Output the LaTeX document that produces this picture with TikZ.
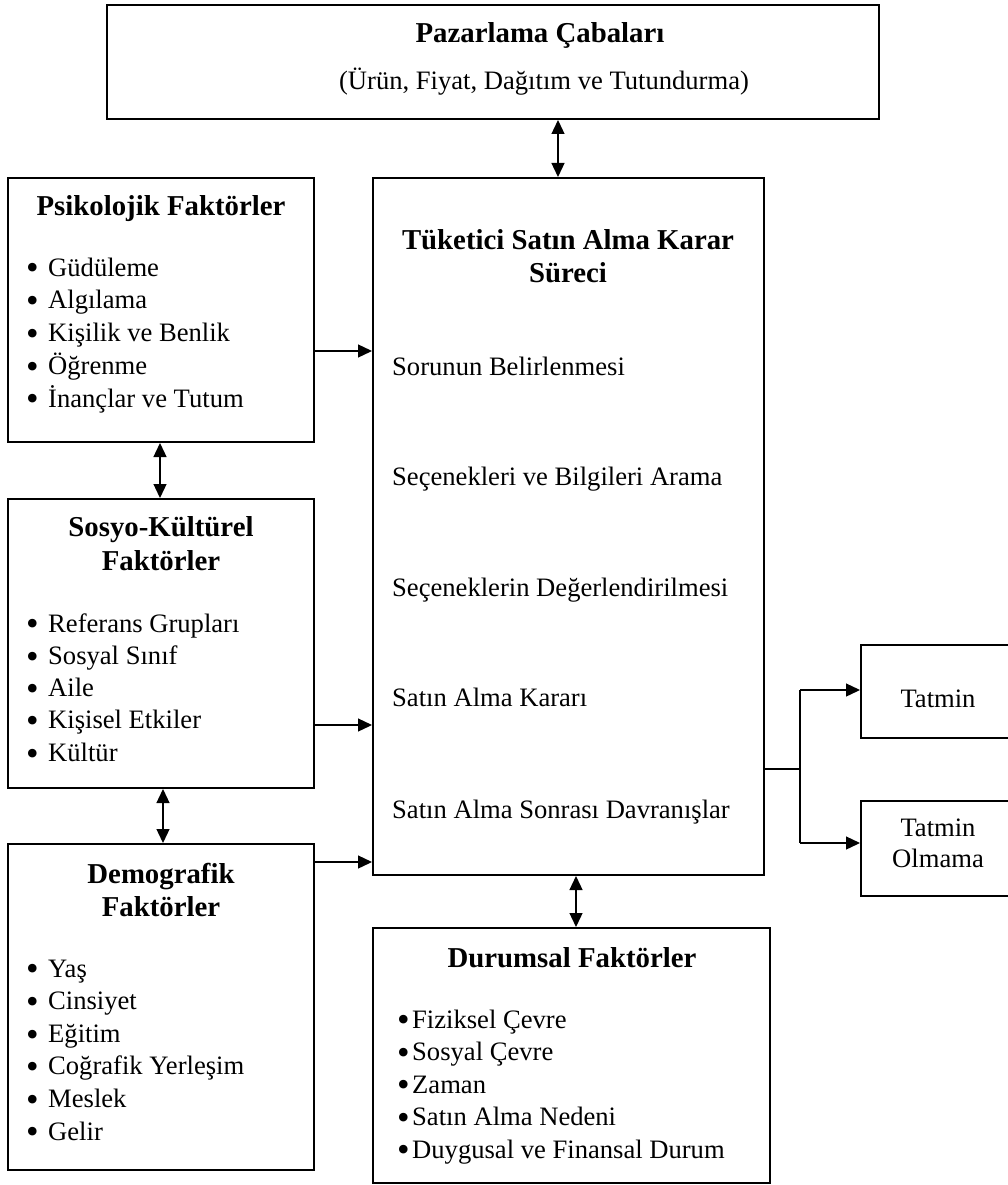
\documentclass[tikz,border=0pt]{standalone}
\usepackage{fontspec}
\setmainfont{Liberation Serif}
\usetikzlibrary{arrows.meta}
\newcommand{\bigbul}{\smash{\raisebox{-3.9pt}{\scalebox{1.35}{•}}}}
\tikzset{
  boxnode/.style={draw=black, line width=2pt, inner sep=0pt},
  reg/.style={font=\fontsize{26.6}{32.6}\selectfont, inner sep=0pt, text height=18pt, text depth=0pt},
  bld/.style={font=\bfseries\fontsize{28.8}{33}\selectfont, inner sep=0pt, text height=19pt, text depth=0pt},
  conn/.style={line width=1.3pt},
  arr/.style={conn, -{Triangle[length=14pt,width=13pt]}},
  dbl/.style={conn, {Triangle[length=14pt,width=13pt]}-{Triangle[length=14pt,width=13pt]}},
}
\begin{document}
\begin{tikzpicture}[x=1pt,y=-1pt]
\useasboundingbox (0,0) rectangle (1008,1185);
\fill[white] (0,0) rectangle (1008,1185);
\clip (0,0) rectangle (1008,1185);

% boxes
\node[boxnode, minimum width=772pt, minimum height=114pt] (top) at (493,62) {};
\node[boxnode, minimum width=391pt, minimum height=697pt] (main) at (568.5,526.5) {};
\node[boxnode, minimum width=306pt, minimum height=264pt] (psik) at (161,310) {};
\node[boxnode, minimum width=306pt, minimum height=289pt] (sos) at (161,643.5) {};
\node[boxnode, minimum width=306pt, minimum height=326pt] (dem) at (161,1007) {};
\node[boxnode, minimum width=397pt, minimum height=255pt] (dur) at (571.5,1055.5) {};
\node[boxnode, minimum width=154pt, minimum height=93pt] (tat) at (938,691.5) {};
\node[boxnode, minimum width=154pt, minimum height=95pt] (olm) at (938,848.5) {};

% top box text
\node[bld] (toptitle) at (540,33) {Pazarlama Çabaları};
\node[reg] (topsub) at (544,81) {(Ürün, Fiyat, Dağıtım ve Tutundurma)};

% main box text
\node[bld] (maint1) at (568,240) {Tüketici Satın Alma Karar};
\node[bld] (maint2) at (568,273) {Süreci};
\node[reg, anchor=west] (m1) at (392,366) {Sorunun Belirlenmesi};
\node[reg, anchor=west] (m2) at (392,476) {Seçenekleri ve Bilgileri Arama};
\node[reg, anchor=west] (m3) at (392,587) {Seçeneklerin Değerlendirilmesi};
\node[reg, anchor=west] (m4) at (392,697) {Satın Alma Kararı};
\node[reg, anchor=west] (m5) at (392,809) {Satın Alma Sonrası Davranışlar};

% psikolojik
\node[bld] (psikt) at (161,206) {Psikolojik Faktörler};
\foreach \s [count=\i from 0] in {Güdüleme, Algılama, Kişilik ve Benlik, Öğrenme, İnançlar ve Tutum}
  \node[reg, anchor=west] (p\i) at (26,{267+32.75*\i}) {\makebox[22pt][l]{\bigbul}\s};

% sosyo-kulturel
\node[bld] (sost1) at (161,527) {Sosyo-Kültürel};
\node[bld] (sost2) at (161,561) {Faktörler};
\foreach \s [count=\i from 0] in {Referans Grupları, Sosyal Sınıf, Aile, Kişisel Etkiler, Kültür}
  \node[reg, anchor=west] (s\i) at (26,{623+32.3*\i}) {\makebox[22pt][l]{\bigbul}\s};

% demografik
\node[bld] (demt1) at (161,874) {Demografik};
\node[bld] (demt2) at (161,907) {Faktörler};
\foreach \s [count=\i from 0] in {Yaş, Cinsiyet, Eğitim, Coğrafik Yerleşim, Meslek, Gelir}
  \node[reg, anchor=west] (d\i) at (26,{968+32.6*\i}) {\makebox[22pt][l]{\bigbul}\s};

% durumsal
\node[bld] (durt) at (572,958) {Durumsal Faktörler};
\foreach \s [count=\i from 0] in {Fiziksel Çevre, Sosyal Çevre, Zaman, Satın Alma Nedeni, Duygusal ve Finansal Durum}
  \node[reg, anchor=west] (u\i) at (397,{1019+32.5*\i}) {\makebox[15pt][l]{\bigbul}\s};

% outcomes
\node[reg] (tatt) at (938,698) {Tatmin};
\node[reg] (olmt1) at (938,827) {Tatmin};
\node[reg] (olmt2) at (938,858) {Olmama};

% connectors
\coordinate (xa) at (558,0);
\draw[dbl] (top.south -| xa) -- (main.north -| xa);
\coordinate (ya) at (0,351);
\draw[arr] (psik.east |- ya) -- (main.west |- ya);
\coordinate (xb) at (160,0);
\draw[dbl] (psik.south -| xb) -- (sos.north -| xb);
\coordinate (yb) at (0,725);
\draw[arr] (sos.east |- yb) -- (main.west |- yb);
\coordinate (xc) at (163,0);
\draw[dbl] (sos.south -| xc) -- (dem.north -| xc);
\coordinate (yc) at (0,862);
\draw[arr] (dem.east |- yc) -- (main.west |- yc);
\coordinate (xd) at (576,0);
\draw[dbl] (main.south -| xd) -- (dur.north -| xd);

\coordinate (br) at (800,769);
\coordinate (bt) at (800,690);
\coordinate (bo) at (800,843);
\draw[conn] (main.east |- br) -- (br);
\draw[conn] (bt) -- (bo);
\draw[arr] (bt) -- (tat.west |- bt);
\draw[arr] (bo) -- (olm.west |- bo);
\end{tikzpicture}
\end{document}
